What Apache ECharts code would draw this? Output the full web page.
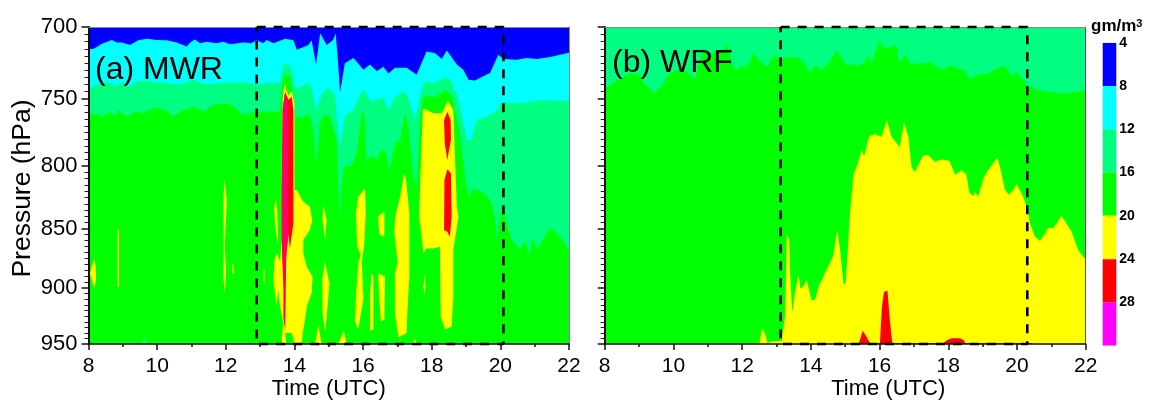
<!DOCTYPE html>
<html>
<head>
<meta charset="utf-8">
<style>html,body{margin:0;padding:0;background:#fff}#main{width:1149px;height:400px}</style>
<script src="https://cdn.jsdelivr.net/npm/echarts@6/dist/echarts.min.js"></script>
</head>
<body>
<div id="main"></div>
<script>
var timeMin = 8, timeMax = 22, presTop = 700, presBottom = 950;
var presLabels = [700, 750, 800, 850, 900, 950];
var presMinor = [705,710,715,720,725,730,735,740,745,755,760,765,770,775,780,785,790,795,805,810,815,820,825,830,835,840,845,855,860,865,870,875,880,885,890,895,905,910,915,920,925,930,935,940,945];

var C_BLUE = '#0000FF', C_CYAN = '#00FFFF', C_SPRING = '#00FF80', C_GREEN = '#00FF00',
    C_YELLOW = '#FFFF00', C_RED = '#FF0000', C_PINK = '#FF0066', C_MAGENTA = '#FF00FF';

var legendLevels = [4, 8, 12, 16, 20, 24, 28];
var legendColors = [C_BLUE, C_CYAN, C_SPRING, C_GREEN, C_YELLOW, C_RED, C_MAGENTA];

// (a) MWR: contour edges as [time, pressure]
var aBlueEdge = [[8,715],[8.14,715],[8.38,711.5],[8.68,708.8],[8.82,710.6],[8.97,710.6],[9.21,712.2],[9.45,709],[9.7,708],[9.99,708.8],[10.28,709],[10.57,710.6],[10.86,713.2],[10.98,710.2],[11.1,708.4],[11.25,711],[11.44,710],[11.73,711],[11.93,710],[12.12,711.7],[12.51,710.6],[12.75,711],[12.9,708.8],[13.09,711],[13.19,708.8],[13.39,711],[13.73,708],[13.97,709],[14.07,715.5],[14.41,712.2],[14.5,709],[14.63,725.7],[14.75,704.3],[14.94,712.2],[15.13,708.8],[15.2,704.3],[15.25,718],[15.33,745.5],[15.47,724.8],[15.72,721.2],[16.01,729.4],[16.2,725.7],[16.4,730.5],[16.59,727.4],[16.74,732],[16.93,728.1],[17.27,728.1],[17.56,732.9],[17.85,716.8],[18.1,718],[18.29,722],[18.44,716],[18.73,725.7],[18.92,729.4],[19.07,736.5],[19.26,737],[19.5,734],[19.7,731.7],[19.94,719],[20.09,722],[20.48,722.4],[20.77,721.2],[21.06,722],[21.45,720.5],[22,717.5]];
var aCyanEdge = [[8,742.5],[8.14,741.4],[8.38,738.8],[8.63,738.4],[8.77,741.4],[8.97,738.4],[9.16,741.4],[9.4,737.7],[9.7,737.3],[9.99,738.4],[10.28,738.8],[10.57,740],[10.81,738.8],[11.06,736.5],[11.25,738.8],[11.54,740],[11.83,738.8],[12.12,738.8],[12.41,737.7],[12.9,740],[13.19,738.8],[13.58,738.8],[13.62,733],[13.7,724.8],[13.87,727],[13.97,734],[14.02,742.5],[14.09,742.5],[14.45,738.8],[14.55,748],[14.63,758],[14.745,750.4],[14.89,743.3],[15.04,743.3],[15.18,748],[15.33,785.6],[15.47,762],[15.72,758.4],[15.96,744.5],[16.06,744.5],[16.2,752],[16.44,750.4],[16.59,749],[16.74,759],[16.93,749],[17.22,744.5],[17.37,753.4],[17.51,765.6],[17.66,747.4],[17.8,737.7],[18.1,738.8],[18.39,734.6],[18.58,737.7],[18.78,750.4],[19.02,780.5],[19.16,780.5],[19.31,765.6],[19.5,764.4],[19.7,762],[19.89,759.5],[20.04,752],[20.28,753.4],[20.67,753.4],[21.06,751.3],[22,751.5]];
var aGreenEdge = [[8,762],[8.14,760.8],[8.43,763],[8.63,759.5],[8.77,763],[8.87,758],[9.02,761.8],[9.16,763],[9.36,759.5],[9.6,760.8],[9.84,757.2],[10.18,757.2],[10.47,763],[10.76,758.3],[11.1,756],[11.35,759.5],[11.64,754.6],[12.03,753.4],[12.32,757.2],[12.46,762],[12.9,759.5],[13.19,759.5],[13.58,759.5],[13.64,738.8],[13.71,733],[13.87,734],[13.97,750.4],[14.02,764.4],[14.45,762],[14.55,773],[14.63,800.3],[14.745,767.7],[14.84,762],[15.04,763],[15.23,781.8],[15.28,816.4],[15.33,843],[15.37,816],[15.43,801],[15.67,800],[15.81,790.6],[15.96,761],[16.03,759],[16.1,795.7],[16.25,792],[16.4,795.7],[16.49,789.4],[16.64,788],[16.77,803.5],[16.93,783],[17.08,780.5],[17.22,761],[17.32,770.6],[17.47,808.7],[17.56,816.4],[17.66,765.6],[17.76,748],[18.1,749],[18.39,743.8],[18.58,747.4],[18.82,775.5],[18.97,808.7],[19.02,816.4],[19.07,824.3],[19.21,817.7],[19.46,820.4],[19.7,827],[19.84,840.2],[19.89,860.5],[20.04,831],[20.33,859.3],[20.57,867.8],[20.72,859.3],[20.82,871.8],[20.96,858],[21.06,867.8],[21.45,849.6],[21.74,856.6],[22,867.8]];

var aYellowBlobs = [
  [[8.17,874.8],[8.04,887.5],[8.17,900.5],[8.22,893.3],[8.21,881.9]],
  [[8.85,851],[8.89,851],[8.89,899],[8.85,899]],
  [[11.96,810],[12.03,827.4],[12,845.8],[11.97,864.8],[12.01,884.6],[11.97,905],[11.93,890.4],[11.94,867.5],[11.93,827.4]],
  [[12.19,880],[12.23,880],[12.23,888],[12.19,888]],
  [[13.1,884],[13.13,884],[13.13,896],[13.1,896]],
  [[13.41,835],[13.45,825.6],[13.5,835],[13.52,854],[13.53,864],[13.45,851]],
  [[13.66,748.7],[13.71,738.9],[13.82,747.9],[13.92,744.6],[14,753.4],[14,819],[14.07,819],[14.26,828.3],[14.45,832.3],[14.52,843],[14.45,851.2],[14.26,859.4],[14.26,870.5],[14.36,881.8],[14.53,890.3],[14.5,904.7],[14.36,916.3],[14.31,928.1],[14.24,940],[14.21,950],[14,950],[13.92,940],[13.73,940],[13.76,950],[13.63,950],[13.63,943],[13.68,931],[13.58,916.3],[13.53,901.7],[13.48,916],[13.43,904.7],[13.39,893],[13.41,877],[13.48,870],[13.58,877],[13.63,859.4],[13.63,819],[13.64,770]],
  [[14.84,830.9],[14.94,843],[14.89,859.4],[14.82,843]],
  [[14.89,877.5],[15.02,896],[14.94,925.3],[14.89,938.7],[14.82,922.3],[14.81,893.2]],
  [[14.7,932.7],[14.6,950],[14.79,950]],
  [[15.44,938],[15.28,950],[15.52,950]],
  [[15.86,824.3],[16.06,817.7],[16.08,837.6],[16.03,864.8],[15.96,878],[16.01,910],[15.86,936.8],[15.76,929.4],[15.81,900],[15.86,878.7],[15.93,871.8],[15.83,864.8],[15.79,837.6]],
  [[16.25,887.5],[16.3,890],[16.3,936.8],[16.2,938],[16.2,906]],
  [[16.44,840],[16.62,836.3],[16.62,855],[16.56,856.6],[16.47,854]],
  [[16.44,887.5],[16.64,890.4],[16.62,928],[16.52,929.4],[16.47,910]],
  [[17.2,806],[17.25,811],[17.35,837.6],[17.35,890],[17.29,921.9],[17.27,940],[17.03,944],[16.93,921.9],[16.93,887.5],[17.01,878],[16.9,851],[16.96,837.6],[17.08,824.3]],
  [[17.45,950],[17.51,945],[17.58,950]],
  [[17.76,757],[18.05,760.6],[18.29,760.6],[18.47,751.5],[18.63,758.2],[18.73,831.8],[18.78,840.3],[18.63,867.8],[18.63,907.6],[18.58,934.3],[18.39,936.6],[18.26,925.3],[18.24,865],[18.05,866.4],[17.85,866.4],[17.76,870.2],[17.66,845.8],[17.63,840.3],[17.74,758.2]],
  [[17.8,887.5],[17.82,899],[17.79,906],[17.76,899]]
];
var aRedBlobs = [
  [[13.66,757],[13.73,745],[13.82,751],[13.92,748.6],[13.97,758],[13.97,819],[13.97,845.7],[13.87,866.3],[13.82,854.6],[13.76,873.2],[13.73,938.7],[13.68,925.3],[13.68,901.7],[13.63,859.4],[13.63,819]],
  [[18.455,759.5],[18.55,765.6],[18.56,780],[18.455,795.7],[18.38,783],[18.36,765.6]],
  [[18.455,802.9],[18.56,806],[18.58,840.3],[18.53,856.7],[18.455,852.6],[18.36,851.3],[18.37,811.2]]
];
var aPinkBlob = [[13.66,757],[13.73,745],[13.82,751],[13.82,854.6],[13.76,873.2],[13.74,890],[13.68,890],[13.63,859.4],[13.63,819]];
var aSpringDot = [[9.55,950],[9.62,943.9],[9.71,950]];
var aDashBox = [[12.9,700],[20.09,700],[20.09,950],[12.9,950],[12.9,700]];

// (b) WRF
var bGreenEdge = [[8,742.5],[8.25,738.8],[8.54,734.6],[8.74,731.7],[9.03,732.9],[9.17,740],[9.46,746],[9.56,742.5],[9.66,741.4],[9.85,732.9],[10.14,729],[10.39,730.5],[10.63,736],[10.77,722.4],[10.87,714.6],[11.06,718],[11.31,718],[11.57,711.5],[11.7,724.8],[11.82,730.5],[11.99,726.2],[12.13,728],[12.33,718],[12.47,722.4],[12.67,726.7],[12.76,726.7],[12.91,719.5],[13.12,722],[13.39,720.5],[13.63,721.2],[13.78,723.6],[13.98,731.7],[14.12,726.2],[14.31,729.4],[14.51,724.8],[14.75,716],[14.9,721.2],[15.04,726.7],[15.19,724.8],[15.33,726.7],[15.43,726.2],[15.55,724.8],[15.64,719],[15.77,724.8],[15.87,718],[15.99,708.8],[16.13,714.6],[16.4,713.2],[16.48,711.5],[16.57,724.8],[16.74,719],[16.93,726.2],[17.08,724.8],[17.27,724.8],[17.47,723.6],[17.61,726.7],[17.86,729.9],[18.05,726.2],[18.34,729],[18.49,729.9],[18.61,736],[18.78,734],[18.97,732.5],[19.16,732.3],[19.36,729],[19.65,726.7],[19.84,734],[19.99,731.5],[20.13,735.3],[20.28,740],[20.57,743.7],[21.15,746],[21.49,746],[22,744.2]];
var bYellow = [[12.5,950],[12.58,936],[12.67,941],[12.74,949],[12.89,947.5],[13.15,947],[13.25,925],[13.3,855],[13.37,858],[13.39,884],[13.46,921.9],[13.54,904],[13.64,888.4],[13.7,900.7],[13.78,899],[13.88,892.9],[14.02,911],[14.12,910.4],[14.24,898],[14.65,872.8],[14.77,851.1],[14.85,867.8],[14.95,896],[15.01,897],[15.14,838],[15.24,807],[15.33,801],[15.48,788],[15.55,793],[15.7,777.5],[15.87,776.2],[16.06,778],[16.21,765.6],[16.35,778],[16.59,785.8],[16.71,767],[16.84,778],[16.93,801],[17.03,805],[17.27,792],[17.42,792],[17.61,797],[17.81,795.3],[18.03,796.3],[18.2,807],[18.39,803.5],[18.53,807],[18.6,819],[18.63,821.7],[18.73,823.8],[18.78,820.4],[18.87,824.3],[19.02,810],[19.12,805],[19.43,793.8],[19.55,806],[19.65,819],[19.77,822.8],[19.89,819],[19.99,814.3],[20.18,824.3],[20.31,834.9],[20.38,845.8],[20.52,856.6],[20.67,860.3],[20.91,849.6],[21.06,849.6],[21.3,839.6],[21.59,852.6],[21.78,867.8],[22,876],[22,950]];
var bYellowSkin = [[8,949.2],[12.5,949.2],[12.5,950],[8,950]];
var bRed = [[14.9,950],[15.4,949],[15.51,937.9],[15.62,943.4],[15.72,949],[16.01,949],[16.07,916.5],[16.13,903.3],[16.23,902.5],[16.3,928.3],[16.37,949],[17.86,949],[17.97,946.4],[18.1,944.8],[18.34,944.8],[18.44,946.4],[18.5,949],[20.43,949],[20.43,950]];
var bDashBox = [[13.12,700],[20.3,700],[20.3,950],[13.12,950],[13.12,700]];

function topBand(edge) {
    return [[timeMin, presTop]].concat(edge, [[timeMax, presTop]]);
}
var fullBox = [[timeMin, presTop], [timeMax, presTop], [timeMax, presBottom], [timeMin, presBottom]];

// one filled contour region, placed through the axes
function area(xIdx, yIdx, pts, color) {
    return {
        type: 'custom', xAxisIndex: xIdx, yAxisIndex: yIdx, data: pts, z: 2, silent: true,
        animation: false, clip: true, coordinateSystem: 'cartesian2d',
        encode: {x: 0, y: 1},
        renderItem: function (params, api) {
            if (params.dataIndex !== 0) return;
            return {
                type: 'polygon',
                shape: {points: pts.map(function (p) { return api.coord(p); })},
                style: {fill: color}
            };
        }
    };
}
function dashBox(xIdx, yIdx, pts) {
    return {
        type: 'line', xAxisIndex: xIdx, yAxisIndex: yIdx, data: pts, z: 6, silent: true,
        showSymbol: false, symbol: 'none', clip: false, animation: false,
        lineStyle: {color: '#000', width: 2.6, type: [9, 8]}
    };
}

var font = 'Liberation Sans';
function xBottom(grid, shift) {
    return {
        type: 'value', gridIndex: grid, min: timeMin, max: timeMax, interval: 2, z: 5,
        name: 'Time (UTC)', nameLocation: 'middle', nameGap: 34, nameMoveOverlap: false,
        nameTextStyle: {fontFamily: font, fontSize: 22, color: '#000', padding: [0, 0, 0, shift]},
        axisLine: {lineStyle: {color: '#111', width: 1.5}},
        axisTick: {length: 6, lineStyle: {color: '#111', width: 1.5}},
        minorTick: {show: true, splitNumber: 2, length: 3, lineStyle: {color: '#111', width: 1.5}},
        axisLabel: {fontFamily: font, fontSize: 21, color: '#000', margin: 12, hideOverlap: false, showMinLabel: true, showMaxLabel: true},
        splitLine: {show: false}
    };
}
function xTop(grid) {
    return {
        type: 'value', gridIndex: grid, position: 'top', min: timeMin, max: timeMax, z: 5,
        axisLine: {lineStyle: {color: '#888', width: 1}},
        axisTick: {show: false}, axisLabel: {show: false}, splitLine: {show: false}
    };
}
function yMajor(grid, labelled) {
    return {
        type: 'log', gridIndex: grid, position: 'left', min: presTop, max: presBottom, inverse: true, z: 5,
        name: labelled ? 'Pressure (hPa)' : '', nameLocation: 'middle', nameGap: 52,
        nameTextStyle: {fontFamily: font, fontSize: 26.5, color: '#000', padding: [0, 6, 0, 0]},
        axisLine: {lineStyle: {color: '#111', width: 2}},
        axisTick: {length: 7, customValues: presLabels, lineStyle: {color: '#111', width: 1.5}},
        axisLabel: {show: labelled, customValues: presLabels, fontFamily: font, fontSize: 22, color: '#000', margin: 11},
        splitLine: {show: false}, minorTick: {show: false}
    };
}
function yMinor(grid) {
    return {
        type: 'log', gridIndex: grid, position: 'left', min: presTop, max: presBottom, inverse: true, z: 5,
        axisLine: {show: false},
        axisTick: {length: 4, customValues: presMinor, lineStyle: {color: '#222', width: 1}},
        axisLabel: {show: false}, splitLine: {show: false}
    };
}
function yRight(grid, color) {
    return {
        type: 'log', gridIndex: grid, position: 'right', min: presTop, max: presBottom, inverse: true, z: 5,
        axisLine: {onZero: false, lineStyle: {color: color, width: 1}},
        axisTick: {show: false}, axisLabel: {show: false}, splitLine: {show: false}
    };
}

var series = [area(0, 0, fullBox, C_GREEN), area(0, 0, topBand(aGreenEdge), C_SPRING),
    area(0, 0, topBand(aCyanEdge), C_CYAN), area(0, 0, topBand(aBlueEdge), C_BLUE), area(0, 0, aSpringDot, C_SPRING)];
aYellowBlobs.forEach(function (b) { series.push(area(0, 0, b, C_YELLOW)); });
aRedBlobs.forEach(function (b) { series.push(area(0, 0, b, C_RED)); });
series.push(area(0, 0, aPinkBlob, C_PINK));
series.push(dashBox(0, 0, aDashBox));

series.push(area(2, 3, fullBox, C_GREEN), area(2, 3, topBand(bGreenEdge), C_SPRING),
    area(2, 3, bYellow, C_YELLOW), area(2, 3, bYellowSkin, C_YELLOW), area(2, 3, bRed, C_RED));
series.push(dashBox(2, 3, bDashBox));

legendLevels.forEach(function (v, i) {
    series.push(area(4, 6, [[0, v], [1, v], [1, v + 4], [0, v + 4]], legendColors[i]));
});

var option = {
    animation: false,
    backgroundColor: '#fff',
    grid: [
        {left: 88.5, top: 27, width: 480.5, height: 317, outerBoundsMode: 'none'},
        {left: 604.7, top: 27, width: 481, height: 317, outerBoundsMode: 'none'},
        {left: 1102.7, top: 42.7, width: 13.6, height: 303, outerBoundsMode: 'none'}
    ],
    xAxis: [xBottom(0, 0), xTop(0), xBottom(1, 86), xTop(1),
        {type: 'value', gridIndex: 2, min: 0, max: 1, show: false}],
    yAxis: [yMajor(0, true), yMinor(0), yRight(0, '#888'), yMajor(1, false), yMinor(1), yRight(1, '#555'),
        {type: 'value', gridIndex: 2, min: 4, max: 32, interval: 4, inverse: true, z: 5,
         axisLine: {show: false}, axisTick: {show: false}, splitLine: {show: false}, position: 'right',
         axisLabel: {fontFamily: font, fontSize: 14, fontWeight: 'bold', color: '#000', margin: 3,
             formatter: function (v) { return v === 32 ? '' : v; }}}],
    series: series,
    graphic: [
        {type: 'text', left: 95, top: 54, z: 10, silent: true,
         style: {text: '(a) MWR', fontFamily: font, fontSize: 32, fill: '#000'}},
        {type: 'text', left: 612, top: 47, z: 10, silent: true,
         style: {text: '(b) WRF', fontFamily: font, fontSize: 32, fill: '#000'}},
        {type: 'text', left: 1091, top: 18, z: 10, silent: true,
         style: {text: 'gm/m{s|3}', fontFamily: font, fontSize: 17, fontWeight: 'bold', fill: '#000',
             rich: {s: {fontFamily: font, fontSize: 11, fontWeight: 'bold', fill: '#000', verticalAlign: 'top', padding: [0, 0, 6, 0]}}}}
    ]
};

var chart = echarts.init(document.getElementById('main'), null, {renderer: 'canvas'});
chart.setOption(option);
</script>
</body>
</html>
